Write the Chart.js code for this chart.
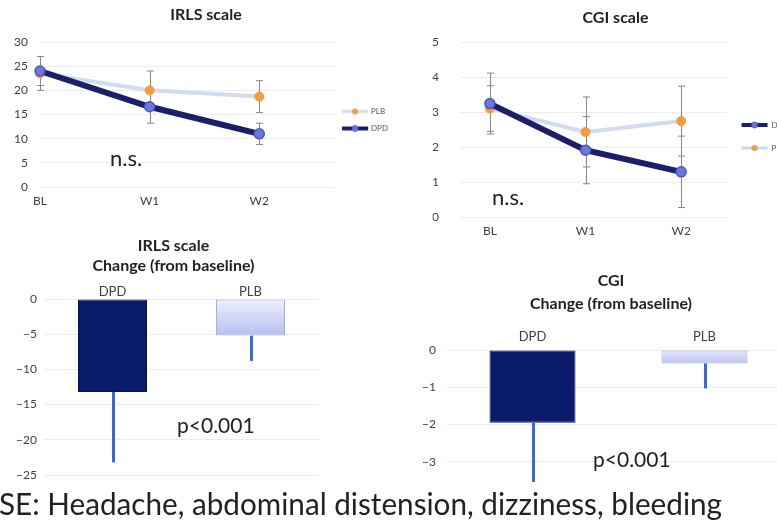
<!DOCTYPE html>
<html>
<head>
<meta charset="utf-8">
<script src="https://cdn.jsdelivr.net/npm/chart.js@4.4.1/dist/chart.umd.min.js"></script>
<style>
  html, body { margin: 0; padding: 0; background: #fff; }
  #stage { position: relative; width: 777px; height: 525px; overflow: hidden; background: #fff; }
  #stage canvas { position: absolute; }
  #notes { position: absolute; left: 0; top: 0; }
  #notes text { font-family: Lato, "Open Sans", sans-serif; fill: #222; }
</style>
</head>
<body>
<div id="stage">
  <canvas id="irlsTrend" width="398" height="240" style="left:0;top:0"></canvas>
  <canvas id="cgiTrend" width="400" height="246" style="left:400px;top:0"></canvas>
  <canvas id="irlsChangeChart" width="333" height="264" style="left:0;top:225px"></canvas>
  <canvas id="cgiChangeChart" width="404" height="263" style="left:400px;top:240px"></canvas>
  <svg id="notes" width="777" height="525">
    <text x="110" y="166" font-size="22">n.s.</text>
    <text x="492" y="205" font-size="22">n.s.</text>
    <text x="177" y="433" font-size="21">p&lt;0.001</text>
    <text x="593" y="467" font-size="21">p&lt;0.001</text>
    <rect x="0" y="482" width="777" height="43" fill="#fff"></rect>
    <text x="-1" y="515" font-size="30" fill="#111" textLength="723" lengthAdjust="spacingAndGlyphs">SE: Headache, abdominal distension, dizziness, bleeding</text>
  </svg>
</div>
<script>
// Visits
const timepoints = ['BL', 'W1', 'W2'];

// IRLS score by visit (mean, SD)
const irlsPLB = [23.5, 20.0, 18.7];
const irlsPLBErr = [3.5, 4.0, 3.3];
const irlsDPD = [24.0, 16.6, 11.0];
const irlsDPDErr = [3.0, 3.4, 2.2];

// CGI score by visit (mean, SD)
const cgiDPD = [3.24, 1.91, 1.29];
const cgiDPDErr = [0.87, 0.96, 1.02];
const cgiPLB = [3.10, 2.43, 2.74];
const cgiPLBErr = [0.65, 1.0, 1.0];

// Change from baseline by group (mean, SD)
const groups = ['DPD', 'PLB'];
const irlsChange = [-13.2, -5.2];
const irlsChangeErr = [10.0, 3.6];
const cgiChange = [-1.95, -0.36];
const cgiChangeErr = [1.65, 0.67];

Chart.defaults.font.family = 'Lato, "Open Sans", sans-serif';
Chart.defaults.color = '#404040';

const NAVY = '#1b1f69';
const ORANGE = '#f29b3f';

const toPoints = (vals) => vals.map((v, i) => ({ x: i, y: v }));
const minusLabel = (v) => (v < 0 ? '\u2212' + Math.abs(v) : String(v));

// Vertical error bars drawn from each element's own scale position
function drawErrorBars(chart, opts) {
  const ctx = chart.ctx;
  const ys = chart.scales.y;
  ctx.save();
  ctx.strokeStyle = opts.color;
  ctx.lineWidth = opts.width;
  chart.data.datasets.forEach((ds, i) => {
    if (!ds.errors) return;
    chart.getDatasetMeta(i).data.forEach((el, j) => {
      const raw = ds.data[j];
      const v = typeof raw === 'number' ? raw : raw.y;
      const e = ds.errors[j];
      const x = Math.round(el.x) + (opts.width % 2 ? 0.5 : 0);
      const yA = ys.getPixelForValue(opts.oneSided ? v : v + e);
      const yB = ys.getPixelForValue(v - e);
      ctx.beginPath();
      ctx.moveTo(x, yA);
      ctx.lineTo(x, yB);
      if (opts.cap) {
        const h = opts.cap / 2;
        ctx.moveTo(x - h, yA); ctx.lineTo(x + h, yA);
        ctx.moveTo(x - h, yB); ctx.lineTo(x + h, yB);
      }
      ctx.stroke();
    });
  });
  ctx.restore();
}
const errorBars = {
  id: 'errorBars',
  beforeDatasetsDraw(chart, args, opts) { if (opts.under) drawErrorBars(chart, opts); },
  afterDatasetsDraw(chart, args, opts) { if (!opts.under) drawErrorBars(chart, opts); }
};

// Small line-and-marker swatches for the legends
function makeSwatch(lineColor, lineWidth, dotColor, dotEdge, r) {
  const c = document.createElement('canvas');
  c.width = 28; c.height = 12;
  const g = c.getContext('2d');
  g.strokeStyle = lineColor; g.lineWidth = lineWidth;
  g.beginPath(); g.moveTo(1, 6); g.lineTo(27, 6); g.stroke();
  g.beginPath(); g.arc(14, 6, r, 0, 2 * Math.PI);
  g.fillStyle = dotColor; g.fill();
  if (dotEdge) { g.strokeStyle = dotEdge; g.lineWidth = 1; g.stroke(); }
  return c;
}
const plbSwatch = makeSwatch('#cfd8f1', 3, ORANGE, null, 3);
const dpdSwatch = makeSwatch(NAVY, 4, '#6a78d6', '#4b58c4', 3);

const swatchLabels = (chart) => chart.data.datasets.map((ds, i) => ({
  text: ds.label, pointStyle: ds.swatch, datasetIndex: i, hidden: false,
  fillStyle: 'transparent', strokeStyle: 'transparent', lineWidth: 0, fontColor: '#595959'
}));

function plbSeries(label, values, errs) {
  return {
    label, data: toPoints(values), errors: errs, swatch: plbSwatch, order: 1, clip: false,
    borderColor: '#d3dbf1', borderWidth: 4, tension: 0,
    pointRadius: 4.5, pointBackgroundColor: ORANGE, pointBorderColor: ORANGE, pointBorderWidth: 1
  };
}
function dpdSeries(label, values, errs) {
  return {
    label, data: toPoints(values), errors: errs, swatch: dpdSwatch, order: 0, clip: false,
    borderColor: NAVY, borderWidth: 6, borderCapStyle: 'round', tension: 0,
    pointRadius: 5, pointBackgroundColor: '#6a78d6', pointBorderColor: '#4b58c4', pointBorderWidth: 1.5
  };
}

function trendOptions(cfg) {
  return {
    responsive: false, animation: false, events: [],
    layout: { padding: cfg.padding },
    scales: {
      x: {
        type: 'linear', min: cfg.xMin, max: cfg.xMax,
        grid: { display: false }, border: { display: false },
        ticks: {
          stepSize: 1, includeBounds: false, padding: cfg.xPad, font: { size: 12 },
          callback: (v) => (Number.isInteger(v) && timepoints[v] !== undefined ? timepoints[v] : '')
        },
        afterFit: (s) => { s.height = cfg.xHeight; }
      },
      y: {
        min: 0, max: cfg.yMax,
        grid: { color: '#ededed', drawTicks: false }, border: { display: false },
        ticks: { stepSize: cfg.yStep, padding: cfg.yPad, font: { size: 12 } },
        afterFit: (s) => { s.width = cfg.yWidth; }
      }
    },
    plugins: {
      title: {
        display: true, text: cfg.title, color: '#222',
        font: { size: 16, weight: 'bold' }, padding: cfg.titlePad
      },
      legend: {
        position: 'right',
        title: cfg.legendTitle,
        labels: {
          usePointStyle: true, pointStyleWidth: cfg.swatchWidth, padding: cfg.legendPad,
          font: { size: 8 }, color: '#595959', generateLabels: swatchLabels
        }
      },
      tooltip: { enabled: false },
      errorBars: { under: true, color: '#8f857e', width: 1, cap: 7 }
    }
  };
}

new Chart(document.getElementById('irlsTrend'), {
  type: 'line',
  data: { datasets: [plbSeries('PLB', irlsPLB, irlsPLBErr), dpdSeries('DPD', irlsDPD, irlsDPDErr)] },
  options: trendOptions({
    title: 'IRLS scale', titlePad: { top: 5.4, bottom: 17.4 },
    padding: { left: 14, right: 0, top: 0, bottom: 0 },
    xMin: 0, xMax: 2.682, xPad: -1.4, xHeight: 53,
    yMax: 30, yStep: 5, yPad: 12, yWidth: 26,
    legendTitle: { display: false }, legendPad: 9, swatchWidth: 24
  }),
  plugins: [errorBars]
});

new Chart(document.getElementById('cgiTrend'), {
  type: 'line',
  data: { datasets: [dpdSeries('DPD', cgiDPD, cgiDPDErr), plbSeries('PLB', cgiPLB, cgiPLBErr)] },
  options: trendOptions({
    title: 'CGI scale', titlePad: { top: 8.4, bottom: 14.4 },
    padding: { left: 32.5, right: 1.5, top: 0, bottom: 0 },
    xMin: -0.3125, xMax: 2.474, xPad: -1.4, xHeight: 29,
    yMax: 5, yStep: 1, yPad: 21, yWidth: 27.5,
    legendTitle: { display: true, text: '', font: { size: 10 }, padding: { top: 15, bottom: 0 } },
    legendPad: 15, swatchWidth: 26
  }),
  plugins: [errorBars]
});

// Bar fills: solid navy for DPD, pale lavender gradient for PLB
function groupFill(top, bottom) {
  return (ctx) => {
    if (ctx.dataIndex === 0) return '#0b1b6c';
    const chart = ctx.chart;
    if (ctx.type !== 'data' || !chart.chartArea || !chart.scales.y) return bottom;
    const ys = chart.scales.y;
    const g = chart.ctx.createLinearGradient(0, ys.getPixelForValue(0), 0, ys.getPixelForValue(ctx.raw));
    g.addColorStop(0, top);
    g.addColorStop(1, bottom);
    return g;
  };
}

function changeOptions(cfg) {
  return {
    responsive: false, animation: false, events: [],
    layout: { padding: cfg.padding },
    scales: {
      x: {
        position: 'top', grid: { display: false }, border: { display: false },
        ticks: { padding: cfg.xPad, font: { size: 13 } },
        afterFit: (s) => { s.height = cfg.xHeight; }
      },
      y: {
        min: cfg.yMin, max: 0,
        grid: { color: '#ececec', drawTicks: false }, border: { display: false },
        ticks: { stepSize: cfg.yStep, includeBounds: false, padding: cfg.yPad, font: { size: 12 }, callback: minusLabel },
        afterFit: (s) => { s.width = cfg.yWidth; }
      },
      // empty margin on the right of the plot
      yRight: {
        type: 'linear', position: 'right', display: true,
        grid: { display: false, drawTicks: false }, border: { display: false },
        ticks: { display: false },
        afterFit: (s) => { s.width = cfg.rightGap; }
      }
    },
    plugins: {
      title: {
        display: true, text: cfg.title, color: '#222',
        font: { size: 16, weight: 'bold', lineHeight: cfg.titleLine / 16 },
        padding: { top: cfg.titleTop, bottom: 0 }
      },
      legend: { display: false },
      tooltip: { enabled: false },
      errorBars: { under: false, oneSided: true, color: '#3a6ad9', width: 3, cap: 0 }
    }
  };
}

function changeDataset(values, errs, top, bottom) {
  return {
    data: values, errors: errs,
    backgroundColor: groupFill(top, bottom),
    borderColor: ['#07134f', '#a3ace6'], borderWidth: 1, borderSkipped: false,
    barPercentage: 1, categoryPercentage: 0.5
  };
}

new Chart(document.getElementById('irlsChangeChart'), {
  type: 'bar',
  data: { labels: groups, datasets: [changeDataset(irlsChange, irlsChangeErr, '#eef0fd', '#b6c0f0')] },
  options: changeOptions({
    title: ['IRLS scale', 'Change (from baseline)'], titleLine: 20.5, titleTop: 10.25,
    padding: { left: 14, right: 0, top: 0, bottom: 14 },
    xPad: -8.6, xHeight: 22.75,
    yMin: -25, yStep: 5, yPad: 6.5, yWidth: 29.5, rightGap: 13.5
  }),
  plugins: [errorBars]
});

new Chart(document.getElementById('cgiChangeChart'), {
  type: 'bar',
  data: { labels: groups, datasets: [changeDataset(cgiChange, cgiChangeErr, '#e2e6fb', '#bcc5f2')] },
  options: changeOptions({
    title: ['CGI', 'Change (from baseline)'], titleLine: 23, titleTop: 29.5,
    padding: { left: 18, right: 0, top: 0, bottom: 18.7 },
    xPad: -2.6, xHeight: 34.5,
    yMin: -3.6, yStep: 1, yPad: 10.5, yWidth: 28.5, rightGap: 13.5
  }),
  plugins: [errorBars]
});
</script>
</body>
</html>
